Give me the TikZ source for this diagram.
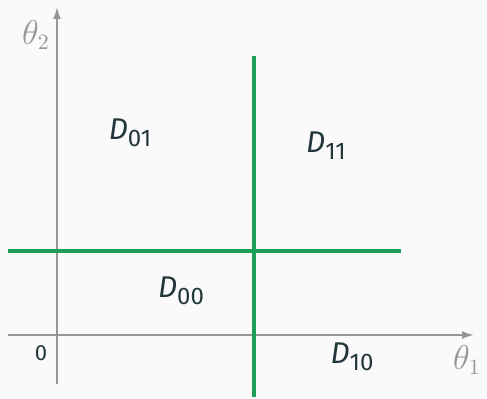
\documentclass[tikz,border=0pt]{standalone}
\usepackage{fontspec}
\setmainfont{Fira Sans}
\usetikzlibrary{arrows.meta}
\definecolor{mDark}{HTML}{23373B}
\definecolor{mGreen}{RGB}{31,158,88}
\definecolor{mAxis}{RGB}{150,150,150}
\definecolor{mBg}{HTML}{FAFAFA}
\tikzset{RegionAxis/.style={line width=1pt,draw=mAxis},
         RegionCut/.style={line width=2.3pt,draw=mGreen},
         RegionLbl/.style={font=\fontsize{15}{18}\selectfont,text=mDark,inner sep=0pt}}
\newcommand{\Dsub}[1]{\textit{D}\raisebox{-.45ex}{\fontsize{12}{14}\selectfont #1}}

\begin{document}
\begin{tikzpicture}[x=.5pt,y=-.5pt,line cap=butt]
  \fill[mBg] (0,0) rectangle (487,399);
  \useasboundingbox (0,0) rectangle (487,399);
  % axes
  \coordinate (xs) at (8,335);  \coordinate (xe) at (474,335);
  \coordinate (ys) at (57,384); \coordinate (ye) at (57,7);
  \draw[RegionAxis,-{Latex[length=6pt,width=4pt]}] (xs) -- (xe);
  \draw[RegionAxis,-{Latex[length=6pt,width=4pt]}] (ys) -- (ye);
  \node[text=mAxis,font=\fontsize{16}{18}\selectfont] (t1) at (467,360) {$\theta_1$};
  \node[text=mAxis,font=\fontsize{16}{18}\selectfont] (t2) at (36,35) {$\theta_2$};
  \node[text=mDark,font=\fontsize{11}{13}\selectfont] (o) at (41,353) {0};
  % the two cuts
  \coordinate (hs) at (8,251);  \coordinate (he) at (401,251);
  \coordinate (vs) at (254,56); \coordinate (ve) at (254,397);
  \draw[RegionCut] (hs) -- (he);
  \draw[RegionCut] (vs) -- (ve);
  % regions
  \node[RegionLbl] (d01) at (130,133) {\Dsub{01}};
  \node[RegionLbl] (d11) at (326,146) {\Dsub{11}};
  \node[RegionLbl] (d00) at (181,291) {\Dsub{00}};
  \node[RegionLbl] (d10) at (352,357) {\Dsub{10}};
\end{tikzpicture}
\end{document}
